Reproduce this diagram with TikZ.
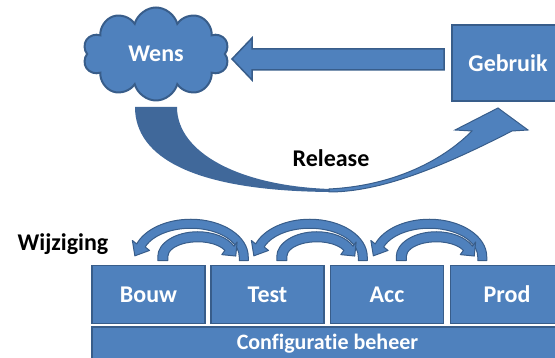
\documentclass[tikz,border=0pt]{standalone}
\usepackage{fontspec}
\setmainfont{Carlito}[Ligatures={NoCommon,NoContextual}]
\usetikzlibrary{shapes.symbols}
\definecolor{boxblue}{RGB}{79,129,189}
\definecolor{edgeblue}{RGB}{56,93,138}
\definecolor{darkblue}{RGB}{64,104,154}

\begin{document}
\begin{tikzpicture}[x=1pt,y=1pt,
  stage/.style={rectangle, fill=boxblue, draw=edgeblue, line width=1.5pt, minimum width=113pt, minimum height=58pt, text=white, font=\fontsize{24}{28}\selectfont\bfseries},
  blockarrow/.style={fill=boxblue, draw=edgeblue, line width=1.5pt},
  wijarc/.style={fill=boxblue, draw=edgeblue, line width=1pt, line join=round},
  caption/.style={text=black, font=\fontsize{24}{28}\selectfont\bfseries}]
\useasboundingbox (0,0) rectangle (555,358);

% wens en gebruik
\node[cloud, cloud puffs=10, aspect=1.6, minimum width=146pt, minimum height=93pt, inner sep=0pt, fill=boxblue, draw=edgeblue, line width=2pt, text=white, font=\fontsize{24}{28}\selectfont\bfseries] (wens) at (156,304) {Wens};
\node[stage, minimum width=112pt, minimum height=76pt, line width=2pt] (gebruik) at (508,295) {Gebruik};

% terug naar wens
\filldraw[blockarrow] ([shift={(-7,-7)}]gebruik.west) -- ++(0,21) -- ++(-192,0) -- ++(0,11) -- ++(-20,-21) -- ++(20,-21) -- ++(0,10) -- cycle;

% release
\fill[darkblue] (135,251) .. controls (135,200) and (195,167) .. (330,166) -- (330,169) .. controls (240,172) and (177,205) .. (177,251) -- cycle;
\filldraw[blockarrow, line width=1pt] (329,166) .. controls (380,166) and (440,190) .. (512,227) -- (528,228) -- (498,250) -- (455,228) -- (472,227) .. controls (440,195) and (390,172) .. (329,169) -- cycle;
\node[caption, anchor=base] (release) at (331,191) {Release};

% omgevingen
\node[caption] (wijziging) at (63,114) {Wijziging};
\node[stage] (bouw) at (148.5,63.5) {Bouw};
\node[stage] (test) at (267.5,63.5) {Test};
\node[stage] (acc) at (387,63.5) {Acc};
\node[stage] (prod) at (507,63.5) {Prod};
\node[stage, minimum width=471pt, minimum height=34pt, font=\fontsize{22}{26}\selectfont\bfseries] (beheer) at (327.5,14) {Configuratie beheer};

% wijzigingen heen en terug
\begin{scope}[shift={(bouw.north east)}]
\begin{scope}[shift={(-15,8)}]
\filldraw[wijarc] (57.5,-4) -- (57.5,0) arc[start angle=0, end angle=160, x radius=57.5, y radius=37.5] -- (-58.4,16.3) -- (-55.9,0.9) -- (-41.2,6.3) -- (160:48.5 and 28.5) arc[start angle=160, end angle=0, x radius=48.5, y radius=28.5] -- (48.5,-4) -- cycle;
\end{scope}
\begin{scope}[shift={(-8,8)}]
\filldraw[wijarc] (-40,-4) -- (-40,0) arc[start angle=180, end angle=25, x radius=40, y radius=25] -- (39.4,14.8) -- (38.0,0.7) -- (24.0,2.1) -- (25:30 and 15) arc[start angle=25, end angle=180, x radius=30, y radius=15] -- (-30,-4) -- cycle;
\end{scope}
\end{scope}
\begin{scope}[shift={(test.north east)}]
\begin{scope}[shift={(-15,8)}]
\filldraw[wijarc] (57.5,-4) -- (57.5,0) arc[start angle=0, end angle=160, x radius=57.5, y radius=37.5] -- (-58.4,16.3) -- (-55.9,0.9) -- (-41.2,6.3) -- (160:48.5 and 28.5) arc[start angle=160, end angle=0, x radius=48.5, y radius=28.5] -- (48.5,-4) -- cycle;
\end{scope}
\begin{scope}[shift={(-8,8)}]
\filldraw[wijarc] (-40,-4) -- (-40,0) arc[start angle=180, end angle=25, x radius=40, y radius=25] -- (39.4,14.8) -- (38.0,0.7) -- (24.0,2.1) -- (25:30 and 15) arc[start angle=25, end angle=180, x radius=30, y radius=15] -- (-30,-4) -- cycle;
\end{scope}
\end{scope}
\begin{scope}[shift={(acc.north east)}]
\begin{scope}[shift={(-15,8)}]
\filldraw[wijarc] (57.5,-4) -- (57.5,0) arc[start angle=0, end angle=160, x radius=57.5, y radius=37.5] -- (-58.4,16.3) -- (-55.9,0.9) -- (-41.2,6.3) -- (160:48.5 and 28.5) arc[start angle=160, end angle=0, x radius=48.5, y radius=28.5] -- (48.5,-4) -- cycle;
\end{scope}
\begin{scope}[shift={(-8,8)}]
\filldraw[wijarc] (-40,-4) -- (-40,0) arc[start angle=180, end angle=25, x radius=40, y radius=25] -- (39.4,14.8) -- (38.0,0.7) -- (24.0,2.1) -- (25:30 and 15) arc[start angle=25, end angle=180, x radius=30, y radius=15] -- (-30,-4) -- cycle;
\end{scope}
\end{scope}
\end{tikzpicture}
\end{document}
